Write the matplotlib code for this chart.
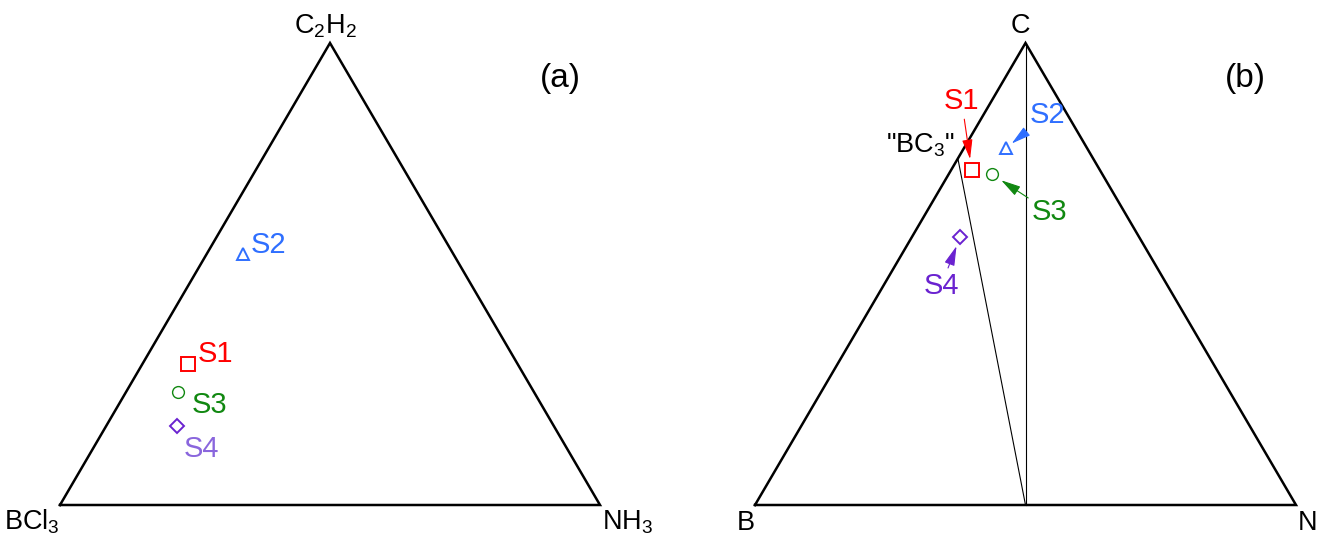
import numpy as np
import matplotlib
matplotlib.use("Agg")
import matplotlib.pyplot as plt

plt.rcParams['font.family'] = ['Liberation Sans', 'DejaVu Sans']
plt.rcParams['mathtext.fontset'] = 'custom'
plt.rcParams['mathtext.rm'] = 'Liberation Sans'
plt.rcParams['mathtext.it'] = 'Liberation Sans'

# ---------------------------------------------------------------
# data: fractions (left corner, right corner, top corner)
# ---------------------------------------------------------------
samples = ["S1", "S2", "S3", "S4"]
colors = ["#ff0000", "#2f6fff", "#118811", "#6a22d0"]
markers = ["s", "^", "o", "D"]

corners_a = ["BCl$_3$", "NH$_3$", "C$_2$H$_2$"]
a_left = [0.611, 0.390, 0.659, 0.698]
a_right = [0.084, 0.067, 0.096, 0.131]
a_top = [0.305, 0.543, 0.245, 0.171]

corners_b = ["B", "N", "C"]
b_left = [0.237, 0.149, 0.204, 0.331]
b_right = [0.038, 0.078, 0.080, 0.089]
b_top = [0.725, 0.773, 0.716, 0.580]

# tie lines in (b): "BC3" -> BN, C -> BN
bc3 = (0.25, 0.0, 0.75)
bn = (0.5, 0.5, 0.0)
c_top = (0.0, 0.0, 1.0)

H = np.sqrt(3) / 2


def tern(l, r, t):
    l, r, t = np.asarray(l), np.asarray(r), np.asarray(t)
    return r + 0.5 * t, t * H


fig = plt.figure(figsize=(13.26, 5.5), dpi=100)
ax_a = fig.add_axes([0, 0, 0.5, 1])
ax_b = fig.add_axes([0.5, 0, 0.5, 1])

# pixel mapping of the triangles
ylim = (-45 * H / 462, 505 * H / 462)
ax_a.set_xlim(-60 / 540, 603 / 540)
ax_b.set_xlim((663 - 755) / 541, (1326 - 755) / 541)
for ax in (ax_a, ax_b):
    ax.set_ylim(*ylim)
    ax.axis('off')
    tx, ty = tern([1, 0, 0, 1], [0, 1, 0, 0], [0, 0, 1, 0])
    ax.plot(tx, ty, color='black', lw=1.8, solid_joinstyle='miter')

# corner labels
def corner_labels(ax, names, size):
    ax.annotate(names[0], (0, 0), xytext=(0, -25), textcoords='offset pixels',
                ha='right', va='baseline', fontsize=size)
    ax.annotate(names[1], (1, 0), xytext=(2, -25), textcoords='offset pixels',
                ha='left', va='baseline', fontsize=size)
    ax.annotate(names[2], (0.5, H), xytext=(-5, 10), textcoords='offset pixels',
                ha='center', va='baseline', fontsize=size)

corner_labels(ax_a, corners_a, 19.5)
corner_labels(ax_b, corners_b, 19.5)

msize = {"s": 9.5, "^": 8.5, "o": 8.5, "D": 7}

# ---------------- panel (a) ----------------
xa, ya = tern(a_left, a_right, a_top)
a_offsets = [(10, 2), (8, 1), (14, -21), (7, -31)]
a_label_colors = ["#ff0000", "#2f6fff", "#118811", "#8a66dd"]
for i, s in enumerate(samples):
    ax_a.plot(xa[i], ya[i], marker=markers[i], ms=msize[markers[i]],
              mfc='none', mec=colors[i], mew=1.4 if markers[i] != 'o' else 1.0, ls='none')
    ax_a.annotate(s, (xa[i], ya[i]), xytext=a_offsets[i], textcoords='offset pixels',
                  ha='left', va='baseline', fontsize=21, color=a_label_colors[i])

# ---------------- panel (b) ----------------
lx, ly = tern([bc3[0], bn[0]], [bc3[1], bn[1]], [bc3[2], bn[2]])
ax_b.plot(lx, ly, color='black', lw=0.8)
lx, ly = tern([c_top[0], bn[0]], [c_top[1], bn[1]], [c_top[2], bn[2]])
ax_b.plot(lx, ly, color='black', lw=0.8)

bx, by = tern(*bc3)
ax_b.annotate('"BC$_3$"', (bx, by), xytext=(-3, 6), textcoords='offset pixels',
              ha='right', va='baseline', fontsize=19.5)

xb, yb = tern(b_left, b_right, b_top)
b_offsets = [(-10, 69), (41, 33), (58, -38), (-19, -49)]
b_shrink = [8, 5, 8, 7]
for i, s in enumerate(samples):
    ax_b.plot(xb[i], yb[i], marker=markers[i], ms=msize[markers[i]],
              mfc='none', mec=colors[i], mew=1.4 if markers[i] != 'o' else 1.0, ls='none')
    ax_b.annotate(s, (xb[i], yb[i]), xytext=b_offsets[i], textcoords='offset pixels',
                  ha='center', va='center', fontsize=21, color=colors[i],
                  arrowprops=dict(arrowstyle='-|>,head_length=1.2,head_width=0.32',
                                  mutation_scale=10, color=colors[i], lw=0.8,
                                  shrinkA=1, shrinkB=b_shrink[i]))

fig.text(560 / 1326, 1 - 79 / 550, "(a)", fontsize=24, ha='center', va='center')
fig.text(1245 / 1326, 1 - 79 / 550, "(b)", fontsize=24, ha='center', va='center')

fig.savefig("out.png", dpi=100)
